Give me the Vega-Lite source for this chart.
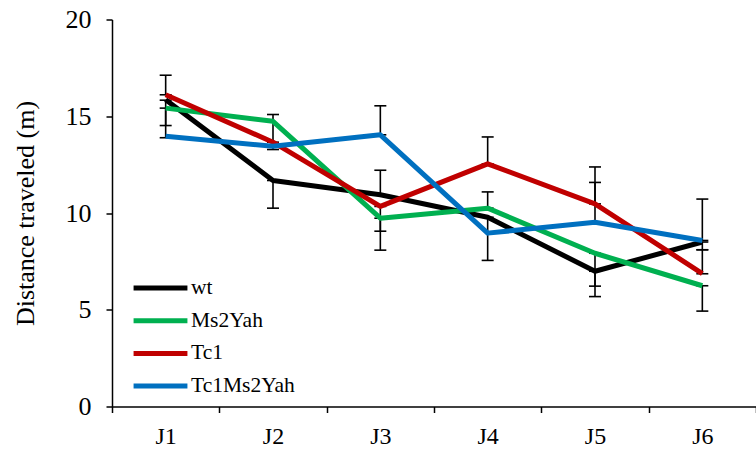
{
  "$schema": "https://vega.github.io/schema/vega-lite/v6.json",
  "width": 644,
  "height": 387,
  "autosize": {"type": "none"},
  "padding": {"left": 112, "top": 19.5, "right": 0, "bottom": 46.5},
  "background": "white",
  "config": {
    "view": {"stroke": null},
    "font": "Liberation Serif",
    "axis": {
      "domainColor": "black", "domainWidth": 1.5,
      "tickColor": "black", "tickWidth": 1.5, "tickSize": 6,
      "labelFont": "Liberation Serif", "labelFontSize": 26, "labelColor": "black",
      "titleFont": "Liberation Serif", "titleFontSize": 26, "titleFontWeight": "normal", "titleColor": "black",
      "grid": false
    },
    "legend": {
      "orient": "none", "legendX": 19, "legendY": 259.5,
      "symbolType": "stroke", "symbolSize": 2900, "symbolStrokeWidth": 5,
      "labelFont": "Liberation Serif", "labelFontSize": 21.5, "labelColor": "black",
      "clipHeight": 18, "rowPadding": 10.7, "labelOffset": 1, "padding": 0
    }
  },
  "datasets": {
    "lines": [
      {"day": "J1", "group": "wt", "value": 15.85},
      {"day": "J2", "group": "wt", "value": 11.68},
      {"day": "J3", "group": "wt", "value": 10.94},
      {"day": "J4", "group": "wt", "value": 9.78},
      {"day": "J5", "group": "wt", "value": 6.99},
      {"day": "J6", "group": "wt", "value": 8.5},
      {"day": "J1", "group": "Ms2Yah", "value": 15.42},
      {"day": "J2", "group": "Ms2Yah", "value": 14.74},
      {"day": "J3", "group": "Ms2Yah", "value": 9.73},
      {"day": "J4", "group": "Ms2Yah", "value": 10.25},
      {"day": "J5", "group": "Ms2Yah", "value": 7.92},
      {"day": "J6", "group": "Ms2Yah", "value": 6.24},
      {"day": "J1", "group": "Tc1", "value": 16.11},
      {"day": "J2", "group": "Tc1", "value": 13.66},
      {"day": "J3", "group": "Tc1", "value": 10.34},
      {"day": "J4", "group": "Tc1", "value": 12.54},
      {"day": "J5", "group": "Tc1", "value": 10.47},
      {"day": "J6", "group": "Tc1", "value": 6.87},
      {"day": "J1", "group": "Tc1Ms2Yah", "value": 13.97},
      {"day": "J2", "group": "Tc1Ms2Yah", "value": 13.45},
      {"day": "J3", "group": "Tc1Ms2Yah", "value": 14.04},
      {"day": "J4", "group": "Tc1Ms2Yah", "value": 8.96},
      {"day": "J5", "group": "Tc1Ms2Yah", "value": 9.52},
      {"day": "J6", "group": "Tc1Ms2Yah", "value": 8.58}
    ],
    "err": [
      {"day": "J1", "lo": 16.11, "hi": 17.12},
      {"day": "J1", "lo": 14.52, "hi": 15.83},
      {"day": "J1", "lo": 13.89, "hi": 15.42},
      {"day": "J2", "lo": 13.66, "hi": 15.09},
      {"day": "J2", "lo": 13.28, "hi": 13.45},
      {"day": "J2", "lo": 10.25, "hi": 11.68},
      {"day": "J3", "lo": 14.04, "hi": 15.54},
      {"day": "J3", "lo": 10.94, "hi": 12.21},
      {"day": "J3", "lo": 9.06, "hi": 10.34},
      {"day": "J3", "lo": 8.08, "hi": 9.73},
      {"day": "J4", "lo": 12.54, "hi": 13.93},
      {"day": "J4", "lo": 10.25, "hi": 11.09},
      {"day": "J4", "lo": 7.55, "hi": 9.78},
      {"day": "J5", "lo": 10.47, "hi": 12.38},
      {"day": "J5", "lo": 9.52, "hi": 11.58},
      {"day": "J5", "lo": 6.22, "hi": 7.92},
      {"day": "J5", "lo": 5.68, "hi": 6.99},
      {"day": "J6", "lo": 8.58, "hi": 10.72},
      {"day": "J6", "lo": 8.10, "hi": 8.5},
      {"day": "J6", "lo": 6.86, "hi": 8.10},
      {"day": "J6", "lo": 4.93, "hi": 6.24}
    ]
  },
  "encoding": {
    "x": {
      "field": "day", "type": "ordinal",
      "scale": {"type": "band", "paddingInner": 0, "paddingOuter": 0, "domain": ["J1", "J2", "J3", "J4", "J5", "J6"]},
      "axis": {"title": null, "labelAngle": 0, "tickBand": "extent", "labelPadding": 12, "labelFontSize": 24}
    }
  },
  "layer": [
    {
      "data": {"name": "err"},
      "mark": {"type": "rule", "color": "black", "strokeWidth": 1.6},
      "encoding": {
        "y": {
          "field": "lo", "type": "quantitative",
          "scale": {"domain": [0, 20], "nice": false, "zero": true},
          "axis": {"values": [0, 5, 10, 15, 20], "title": "Distance traveled (m)", "labelPadding": 15, "titlePadding": 27}
        },
        "y2": {"field": "hi"}
      }
    },
    {
      "data": {"name": "err"},
      "mark": {"type": "tick", "color": "black", "thickness": 1.6, "size": 12, "opacity": 1},
      "encoding": {"y": {"field": "lo", "type": "quantitative"}}
    },
    {
      "data": {"name": "err"},
      "mark": {"type": "tick", "color": "black", "thickness": 1.6, "size": 12, "opacity": 1},
      "encoding": {"y": {"field": "hi", "type": "quantitative"}}
    },
    {
      "data": {"name": "lines"},
      "mark": {"type": "line", "strokeWidth": 5, "strokeJoin": "round"},
      "encoding": {
        "y": {"field": "value", "type": "quantitative"},
        "color": {
          "field": "group", "type": "nominal",
          "scale": {"domain": ["wt", "Ms2Yah", "Tc1", "Tc1Ms2Yah"], "range": ["#000000", "#00B050", "#C00000", "#0070C0"]},
          "legend": {"title": null}
        }
      }
    }
  ]
}
